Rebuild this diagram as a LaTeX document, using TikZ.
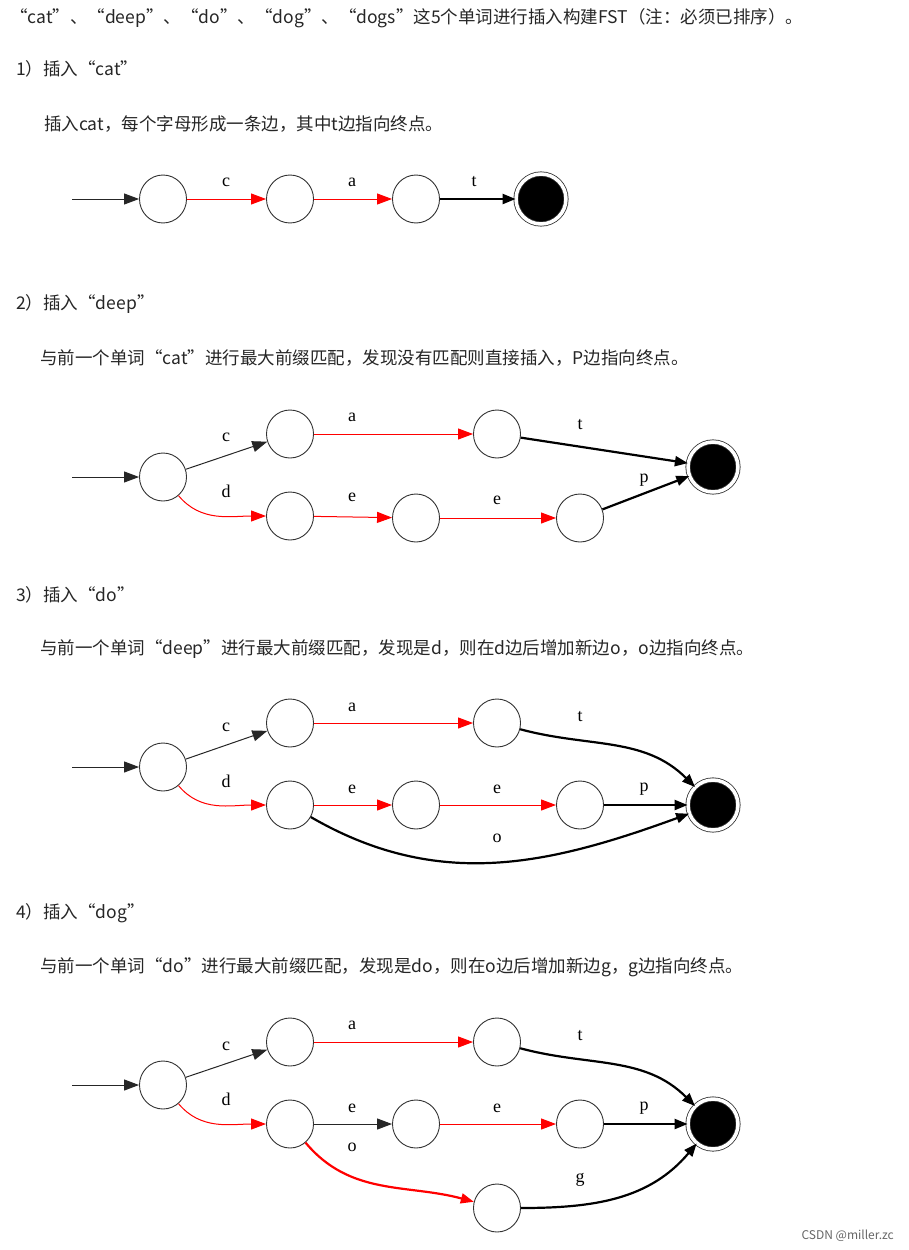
\documentclass[tikz,border=0pt]{standalone}
\usepackage{fontspec}
\setmainfont{Noto Sans CJK SC}
\newfontfamily\edgefont{Liberation Serif}
\usetikzlibrary{arrows.meta}

\tikzset{
  state/.style={draw=black!80, circle, minimum width=48pt, minimum height=48pt, inner sep=0pt, line width=0.9pt, xscale=0.98},
  final/.style={draw=black!80, circle, fill=black, minimum size=50pt, inner sep=0pt, double=white, double distance=3.5pt, line width=0.8pt},
  blk/.style={draw=black!85, line width=1pt, -{Triangle[length=15pt,width=11pt]}},
  bold/.style={draw=black, line width=2.2pt, -{Triangle[length=13pt,width=10pt]}},
  rd/.style={draw=red, line width=1pt, -{Triangle[length=15pt,width=11pt]}, red},
  rdbold/.style={draw=red, line width=2.2pt, -{Triangle[length=13pt,width=10pt]}, red},
  lbl/.style={font=\edgefont\fontsize{18}{18}\selectfont, inner sep=0pt},
  txt/.style={anchor=west, inner sep=0pt, font=\fontsize{17.5}{20}\selectfont, text=black!85}
}

\begin{document}
\begin{tikzpicture}[x=1pt,y=-1pt]
\useasboundingbox[fill=white] (0,0) rectangle (908,1250);

% Text Nodes
\node[txt] (t0) at (10,18) {“cat”、“deep”、“do”、“dog”、“dogs”这5个单词进行插入构建FST（注：必须已排序）。};
\node[txt] (t1) at (16,69) {1）插入“cat”};
\node[txt] (t1b) at (44,124) {插入cat，每个字母形成一条边，其中t边指向终点。};
\node[txt] (t2) at (16,304) {2）插入“deep”};
\node[txt] (t2b) at (40,358) {与前一个单词“cat”进行最大前缀匹配，发现没有匹配则直接插入，P边指向终点。};
\node[txt] (t3) at (16,595) {3）插入“do”};
\node[txt] (t3b) at (40,649) {与前一个单词“deep”进行最大前缀匹配，发现是d，则在d边后增加新边o，o边指向终点。};
\node[txt] (t4) at (16,913) {4）插入“dog”};
\node[txt] (t4b) at (40,967) {与前一个单词“do”进行最大前缀匹配，发现是do，则在o边后增加新边g，g边指向终点。};
\node[anchor=east, inner sep=0pt, font=\fontsize{12}{14}\selectfont, text=black!60] (csdn) at (894,1236) {CSDN @miller.zc};

% Diagram 1: cat
\coordinate (s1) at (72,199);
\node[state] (a0) at (163,199) {};
\node[state] (a1) at (290,199) {};
\node[state] (a2) at (416,199) {};
\node[final] (af) at (541,199) {};
\draw[blk] (s1) -- (a0);
\draw[rd] (a0) -- (a1);
\draw[rd] (a1) -- (a2);
\draw[bold] (a2) -- (af);
\node[lbl] (la1) at (226,182) {c};
\node[lbl] (la2) at (352,182) {a};
\node[lbl] (la3) at (474,182) {t};

% Diagram 2: deep
\coordinate (s2) at (72,477);
\node[state] (b0) at (163,477) {};
\node[state] (bc) at (290,434) {};
\node[state] (ba) at (497,434) {};
\node[state] (bd) at (290,516) {};
\node[state] (be) at (416,518) {};
\node[state] (bee) at (580,518) {};
\node[final] (bf) at (713,467) {};
\draw[blk] (s2) -- (b0);
\draw[blk] (b0) -- (bc);
\draw[rd] (bc) -- (ba);
\draw[bold] (ba) -- (bf);
\draw[rd] (b0) to[out=-50,in=180] (bd);
\draw[rd] (bd) -- (be);
\draw[rd] (be) -- (bee);
\draw[bold] (bee) -- (bf);
\node[lbl] (lb1) at (226,437) {c};
\node[lbl] (lb2) at (226,491) {d};
\node[lbl] (lb3) at (352,417) {a};
\node[lbl] (lb4) at (580,425) {t};
\node[lbl] (lb5) at (352,497) {e};
\node[lbl] (lb6) at (497,500) {e};
\node[lbl] (lb7) at (644,480) {p};

% Diagram 3: do
\coordinate (s3) at (72,767);
\node[state] (c0) at (163,767) {};
\node[state] (cc) at (290,723) {};
\node[state] (ca) at (497,723) {};
\node[state] (cd) at (290,805) {};
\node[state] (ce) at (416,805) {};
\node[state] (cee) at (580,805) {};
\node[final] (cf) at (713,805) {};
\draw[blk] (s3) -- (c0);
\draw[blk] (c0) -- (cc);
\draw[rd] (cc) -- (ca);
\draw[bold] (ca) to[out=-15,in=135] (cf);
\draw[rd] (c0) to[out=-50,in=180] (cd);
\draw[rd] (cd) -- (ce);
\draw[rd] (ce) -- (cee);
\draw[bold] (cee) -- (cf);
\draw[bold] (cd) to[out=-30,in=200] (cf);
\node[lbl] (lc1) at (226,727) {c};
\node[lbl] (lc2) at (226,781) {d};
\node[lbl] (lc3) at (352,707) {a};
\node[lbl] (lc4) at (580,717) {t};
\node[lbl] (lc5) at (352,789) {e};
\node[lbl] (lc6) at (497,789) {e};
\node[lbl] (lc7) at (644,789) {p};
\node[lbl] (lc8) at (497,838) {o};

% Diagram 4: dog
\coordinate (s4) at (72,1085);
\node[state] (d0) at (163,1085) {};
\node[state] (dc) at (290,1042) {};
\node[state] (da) at (497,1042) {};
\node[state] (dd) at (290,1124) {};
\node[state] (de) at (416,1124) {};
\node[state] (dee) at (580,1124) {};
\node[state] (dg) at (497,1208) {};
\node[final] (df) at (713,1124) {};
\draw[blk] (s4) -- (d0);
\draw[blk] (d0) -- (dc);
\draw[rd] (dc) -- (da);
\draw[bold] (da) to[out=-15,in=135] (df);
\draw[rd] (d0) to[out=-50,in=180] (dd);
\draw[blk] (dd) -- (de);
\draw[rd] (de) -- (dee);
\draw[bold] (dee) -- (df);
\draw[rdbold] (dd) to[out=-50,in=165] (dg);
\draw[bold] (dg) to[out=0,in=230] (df);
\node[lbl] (ld1) at (226,1046) {c};
\node[lbl] (ld2) at (226,1099) {d};
\node[lbl] (ld3) at (352,1025) {a};
\node[lbl] (ld4) at (580,1036) {t};
\node[lbl] (ld5) at (352,1108) {e};
\node[lbl] (ld6) at (497,1108) {e};
\node[lbl] (ld7) at (644,1108) {p};
\node[lbl] (ld8) at (352,1147) {o};
\node[lbl] (ld9) at (580,1180) {g};
\end{tikzpicture}
\end{document}
